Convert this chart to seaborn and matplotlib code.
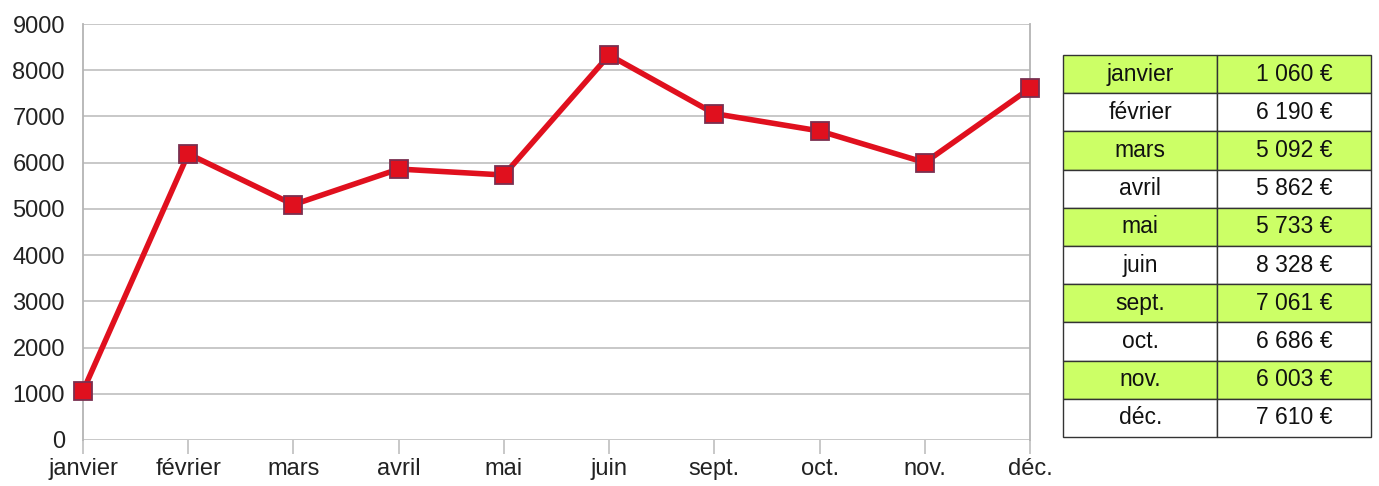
import pandas as pd
import seaborn as sns
import matplotlib.pyplot as plt

# Data
mois = ['janvier', 'février', 'mars', 'avril', 'mai', 'juin',
        'sept.', 'oct.', 'nov.', 'déc.']
ventes = [1060, 6190, 5092, 5862, 5733, 8328, 7061, 6686, 6003, 7610]
montants = ['1 060 €', '6 190 €', '5 092 €', '5 862 €', '5 733 €',
            '8 328 €', '7 061 €', '6 686 €', '6 003 €', '7 610 €']

df = pd.DataFrame({'mois': mois, 'ventes': ventes})

sns.set_theme(style='white')
plt.rcParams['font.family'] = ['Liberation Sans', 'DejaVu Sans']

fig = plt.figure(figsize=(13.79, 4.86), dpi=100)
ax = fig.add_axes([0.0602, 0.0947, 0.6868, 0.8559])

sns.lineplot(data=df, x='mois', y='ventes', ax=ax, color='#e0101e',
             linewidth=4, marker='s', markersize=13,
             markerfacecolor='#e0101e', markeredgecolor='#7a3050',
             markeredgewidth=1.3, sort=False)
for ln in ax.lines:
    ln.set_clip_on(False)
    ln.set_zorder(5)

ax.set_xlim(0, len(mois) - 1)
ax.set_ylim(0, 9000)
ax.set_yticks(range(0, 9001, 1000))
ax.set_xlabel('')
ax.set_ylabel('')
ax.yaxis.grid(True, color='#c4c4c4', linewidth=1.3)
ax.set_axisbelow(True)
for s in ['top', 'bottom']:
    ax.spines[s].set_visible(False)
for s in ['left', 'right']:
    ax.spines[s].set_color('#b4b4b4')
    ax.spines[s].set_linewidth(1.3)

ax.tick_params(axis='y', length=10, width=1.3, color='#c4c4c4',
               labelsize=17, labelcolor='#222222', pad=3)
ax.tick_params(axis='x', length=10, width=1.3, color='#c4c4c4',
               labelsize=17, labelcolor='#222222', pad=3, bottom=True)

# Table on the right
tax = fig.add_axes([0.771, 0.1008, 0.2234, 0.7860])
tax.axis('off')
cells = [[m, v] for m, v in zip(mois, montants)]
colours = [['#ccff66', '#ccff66'] if i % 2 == 0 else ['white', 'white']
           for i in range(len(mois))]
tab = tax.table(cellText=cells, cellColours=colours, cellLoc='center',
                colWidths=[0.5, 0.5], bbox=[0, 0, 1, 1])
tab.auto_set_font_size(False)
for (r, c), cell in tab.get_celld().items():
    cell.set_edgecolor('#333333')
    cell.set_linewidth(1.0)
    cell.get_text().set_fontsize(16.5)
    cell.get_text().set_color('#111111')

fig.savefig('out.png', dpi=100)
